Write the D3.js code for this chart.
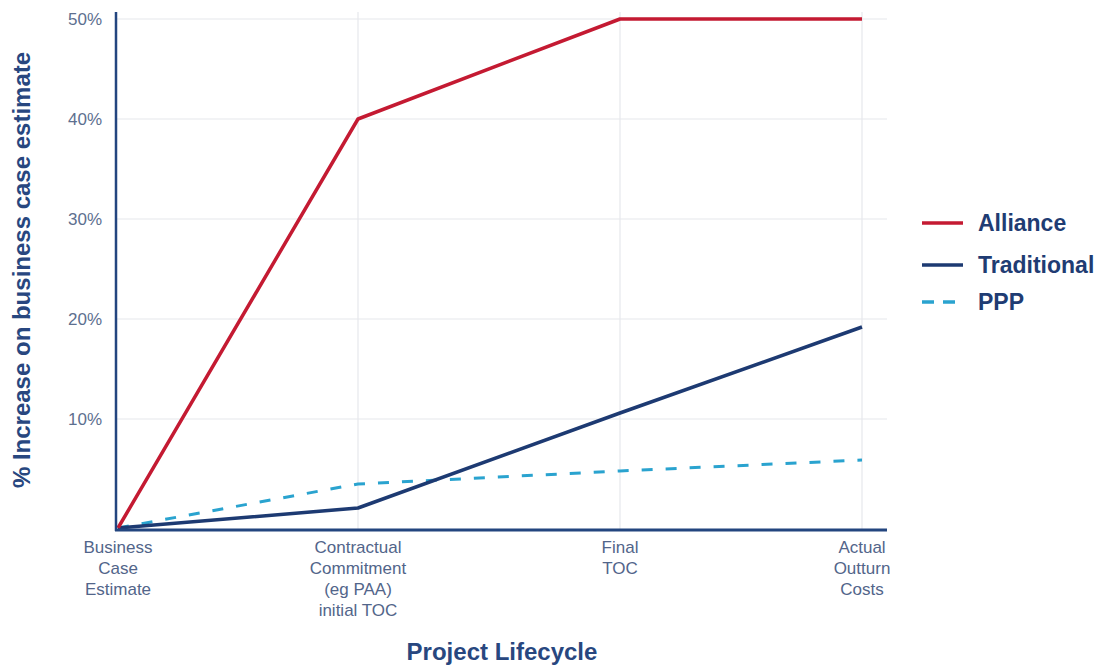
<!DOCTYPE html>
<html>
<head>
<meta charset="utf-8">
<script src="https://cdn.jsdelivr.net/npm/d3@7"></script>
<style>
	body { margin: 0; background: #fff; }
	svg { display: block; font-family: "Liberation Sans", Arial, sans-serif; }
</style>
</head>
<body>
<script>
'use strict';

// stages along the x axis (multi-line labels)
const stages = [
	["Business", "Case", "Estimate"],
	["Contractual", "Commitment", "(eg PAA)", "initial TOC"],
	["Final", "TOC"],
	["Actual", "Outturn", "Costs"]
];
const seriesNames = ["Alliance", "Traditional", "PPP"];
const alliance = [-0.9, 40, 50, 50];
const traditional = [-0.9, 1.1, 10.6, 19.2];
const ppp = [-0.9, 3.5, 4.8, 5.9];
const yTicks = [10, 20, 30, 40, 50];

const params = {
	width: 1102,
	height: 666,
	left: 116,
	right: 887,
	top: 19,
	bottom: 530
};

const colors = { Alliance: "#c41a32", Traditional: "#1d3a72", PPP: "#2aa3cf" };
const navy = "#23457f";

const svg = d3.select("body").append("svg")
	.attr("width", params.width)
	.attr("height", params.height);

// stages are not evenly spaced in the original
const xScale = d3.scaleOrdinal()
	.domain(d3.range(stages.length))
	.range([118, 358, 620, 862]);

const yScale = d3.scaleLinear()
	.domain([-1.1, 50])
	.range([params.bottom, params.top]);

// grid
const grid = svg.append("g");
grid.selectAll(".hgrid")
	.data(yTicks)
	.join("line")
	.attr("x1", params.left)
	.attr("x2", params.right)
	.attr("y1", d => yScale(d))
	.attr("y2", d => yScale(d))
	.attr("stroke", "#e6e8ec")
	.attr("stroke-width", 1.2);
grid.selectAll(".vgrid")
	.data(d3.range(1, stages.length))
	.join("line")
	.attr("x1", d => xScale(d))
	.attr("x2", d => xScale(d))
	.attr("y1", 12)
	.attr("y2", params.bottom)
	.attr("stroke", "#e6e8ec")
	.attr("stroke-width", 1.2);

// y tick labels
svg.append("g").selectAll("text")
	.data(yTicks)
	.join("text")
	.attr("x", 102)
	.attr("y", d => yScale(d))
	.attr("dy", "0.35em")
	.attr("text-anchor", "end")
	.attr("font-size", 17)
	.attr("fill", "#5d6f8f")
	.text(d => d + "%");

// x labels
const xl = svg.append("g").selectAll("text")
	.data(stages)
	.join("text")
	.attr("text-anchor", "middle")
	.attr("font-size", 17)
	.attr("fill", "#52658a");
xl.selectAll("tspan")
	.data((d, i) => d.map(t => ({ t, i })))
	.join("tspan")
	.attr("x", d => xScale(d.i))
	.attr("y", (d, j) => 553 + j * 21)
	.text(d => d.t);

// lines
const line = d3.line()
	.x((d, i) => xScale(i))
	.y(d => yScale(d));

const series = [
	{ name: "PPP", values: ppp, dash: "11,13", width: 3 },
	{ name: "Traditional", values: traditional, dash: null, width: 3.5 },
	{ name: "Alliance", values: alliance, dash: null, width: 3.5 }
];

svg.append("g").selectAll("path")
	.data(series)
	.join("path")
	.attr("d", d => line(d.values))
	.attr("fill", "none")
	.attr("stroke", d => colors[d.name])
	.attr("stroke-width", d => d.width)
	.attr("stroke-dasharray", d => d.dash)
	.attr("stroke-linejoin", "round");

// axes
svg.append("line")
	.attr("x1", params.left).attr("x2", params.left)
	.attr("y1", 12).attr("y2", params.bottom + 1)
	.attr("stroke", navy).attr("stroke-width", 2.5);
svg.append("line")
	.attr("x1", params.left - 1).attr("x2", params.right)
	.attr("y1", params.bottom).attr("y2", params.bottom)
	.attr("stroke", navy).attr("stroke-width", 3);

// axis titles
svg.append("text")
	.attr("transform", "translate(30,270) rotate(-90)")
	.attr("text-anchor", "middle")
	.attr("font-size", 24)
	.attr("font-weight", "bold")
	.attr("fill", "#28477f")
	.text("% Increase on business case estimate");

svg.append("text")
	.attr("x", 502)
	.attr("y", 660)
	.attr("text-anchor", "middle")
	.attr("font-size", 24)
	.attr("font-weight", "bold")
	.attr("fill", "#28477f")
	.text("Project Lifecycle");

// legend
const legend = svg.append("g").selectAll("g")
	.data(seriesNames)
	.join("g")
	.attr("transform", (d, i) => `translate(922,${[223, 265, 302][i]})`);
legend.append("line")
	.attr("x1", 0).attr("x2", 41)
	.attr("stroke", d => colors[d])
	.attr("stroke-width", 3.5)
	.attr("stroke-dasharray", d => d === "PPP" ? "12,9" : null);
legend.append("text")
	.attr("x", 56)
	.attr("dy", "0.35em")
	.attr("font-size", 23)
	.attr("font-weight", "bold")
	.attr("fill", "#1f3c73")
	.text(d => d);
</script>
</body>
</html>
